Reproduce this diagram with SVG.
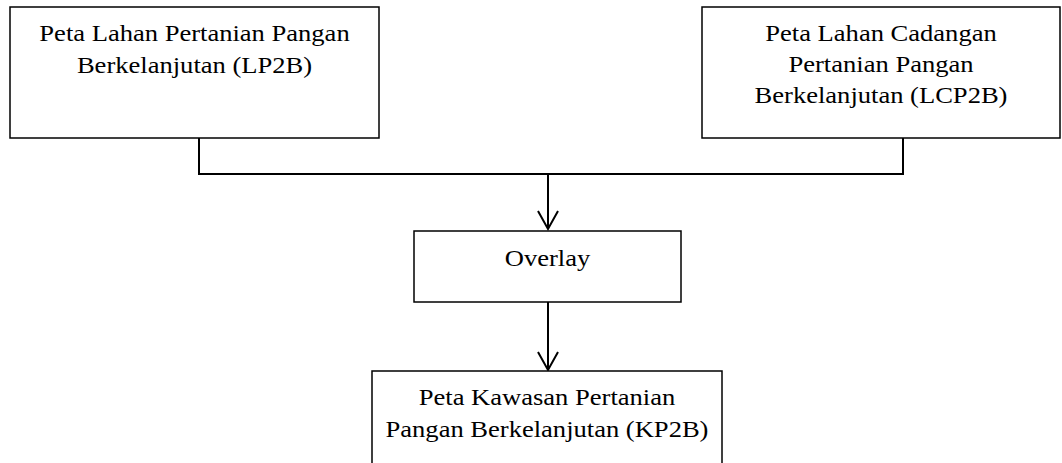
<svg xmlns="http://www.w3.org/2000/svg" width="1062" height="463" viewBox="0 0 1062 463">
  <defs>
    <style>
      .box { fill: #ffffff; stroke: #000000; stroke-width: 1.5; }
      .lbl { font-family: "Liberation Serif", "Times New Roman", serif; font-size: 24px; fill: #000000; text-anchor: middle; }
      .conn { fill: none; stroke: #000000; stroke-width: 2; }
    </style>
    <marker id="arrow" markerWidth="24" markerHeight="24" refX="19" refY="11" orient="auto" markerUnits="userSpaceOnUse">
      <path d="M1,1 L19,11 L1,21" fill="none" stroke="#000000" stroke-width="2"/>
    </marker>
  </defs>
  <rect width="1062" height="463" fill="#ffffff"/>

  <g id="connectors">
    <polyline class="conn" points="199,138 199,174 903,174 903,138"/>
    <line class="conn" x1="548" y1="174" x2="548" y2="229" marker-end="url(#arrow)"/>
    <line class="conn" x1="548" y1="302" x2="548" y2="370" marker-end="url(#arrow)"/>
  </g>

  <g id="node-lp2b">
    <rect class="box" x="10" y="7" width="369" height="131"/>
    <g transform="translate(194.5,0) scale(1.107,1)">
      <text class="lbl" x="0" y="41.5">Peta Lahan Pertanian Pangan</text>
      <text class="lbl" x="0" y="73">Berkelanjutan (LP2B)</text>
    </g>
  </g>

  <g id="node-lcp2b">
    <rect class="box" x="702" y="7" width="358" height="131"/>
    <g transform="translate(881,0) scale(1.107,1)">
      <text class="lbl" x="0" y="41.5">Peta Lahan Cadangan</text>
      <text class="lbl" x="0" y="72.5">Pertanian Pangan</text>
      <text class="lbl" x="0" y="103.5">Berkelanjutan (LCP2B)</text>
    </g>
  </g>

  <g id="node-overlay">
    <rect class="box" x="414" y="231" width="267" height="71"/>
    <g transform="translate(547.5,0) scale(1.107,1)">
      <text class="lbl" x="0" y="266.5">Overlay</text>
    </g>
  </g>

  <g id="node-kp2b">
    <rect class="box" x="372" y="371" width="350" height="100"/>
    <g transform="translate(547,0) scale(1.107,1)">
      <text class="lbl" x="0" y="405">Peta Kawasan Pertanian</text>
      <text class="lbl" x="0" y="437">Pangan Berkelanjutan (KP2B)</text>
    </g>
  </g>
</svg>
